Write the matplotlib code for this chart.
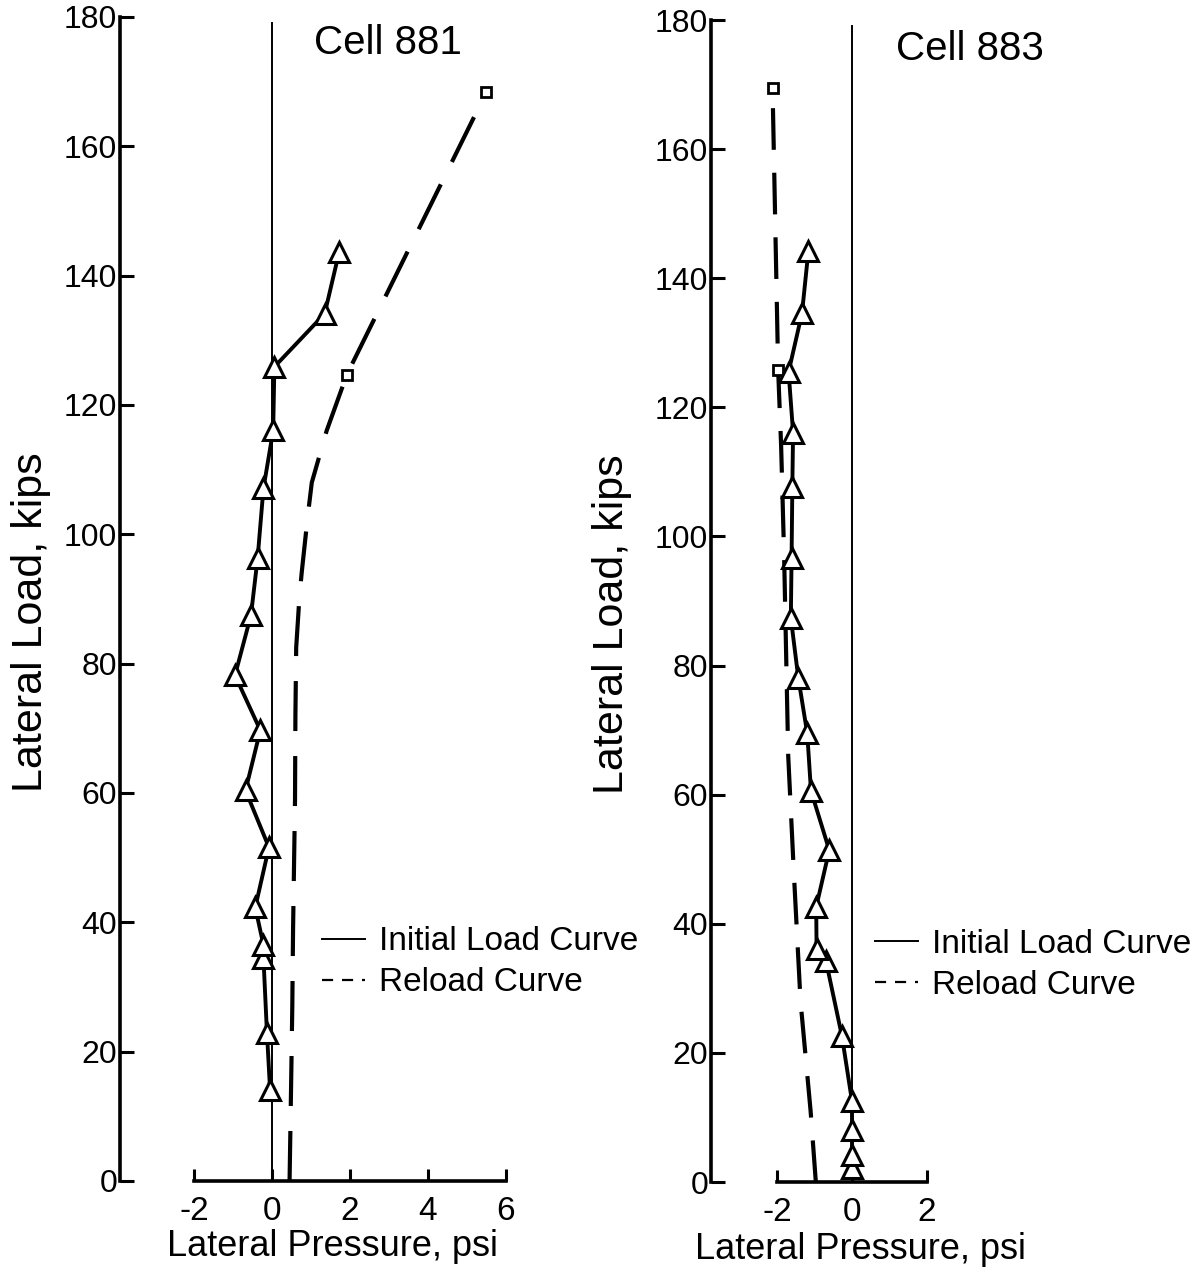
import matplotlib.pyplot as plt
from matplotlib.lines import Line2D

plt.rcParams['font.family'] = ['Liberation Sans', 'DejaVu Sans']
plt.rcParams['axes.unicode_minus'] = False

# Cell 881 (left panel)
c881_init_load = [14.1, 22.9, 34.5, 36.5, 42.3, 51.6, 60.4, 69.7, 78.2, 87.5,
                  96.3, 107.1, 116.1, 125.9, 134.1, 143.6]
c881_init_p = [-0.05, -0.13, -0.22, -0.22, -0.43, -0.08, -0.68, -0.30, -0.95,
               -0.54, -0.37, -0.22, 0.03, 0.06, 1.35, 1.72]
c881_reload_load = [0, 15, 27, 39, 51, 59, 72, 82.5, 90, 94, 103, 108, 116,
                    124.7, 168.4]
c881_reload_p = [0.45, 0.49, 0.52, 0.54, 0.57, 0.59, 0.60, 0.62, 0.70, 0.76,
                 0.92, 1.02, 1.40, 1.92, 5.50]

# Cell 883 (right panel)
c883_init_load = [2.1, 4.2, 8.1, 12.5, 22.6, 34.3, 36.1, 42.6, 51.4, 60.6,
                  69.5, 78.1, 87.4, 96.7, 107.6, 116.1, 125.5, 134.6, 144.2]
c883_init_p = [0.0, 0.0, 0.0, 0.0, -0.27, -0.70, -0.95, -0.96, -0.61, -1.10,
               -1.20, -1.44, -1.64, -1.62, -1.60, -1.58, -1.70, -1.34, -1.17]
c883_reload_load = [0, 11, 28, 48, 66, 97, 114, 125.8, 169.5]
c883_reload_p = [-0.97, -1.11, -1.38, -1.56, -1.71, -1.82, -1.90, -1.98, -2.13]

W, H = 1201, 1271
fig = plt.figure(figsize=(W / 100, H / 100), dpi=100)


def px_axes(x0, x1, ytop, ybot):
    return fig.add_axes([x0 / W, 1 - ybot / H, (x1 - x0) / W, (ybot - ytop) / H])


def style(ax, xlim, xb, xticks):
    ax.set_xlim(*xlim)
    ax.set_ylim(0, 180)
    for s in ['top', 'right']:
        ax.spines[s].set_visible(False)
    ax.spines['left'].set_linewidth(2.6)
    ax.spines['bottom'].set_linewidth(2.6)
    ax.spines['bottom'].set_bounds(*xb)
    ax.set_xticks(xticks)
    ax.set_xticklabels([str(t) for t in xticks])
    ax.set_yticks(range(0, 181, 20))
    ax.tick_params(axis='y', direction='in', length=10, width=2.2, pad=2,
                   labelsize=23)
    ax.tick_params(axis='x', direction='in', length=9, width=2.2, pad=11,
                   labelsize=24)
    ax.axvline(0, ymin=0, ymax=179 / 180, color='k', lw=1.4)


def draw(ax, il, ip, rl, rp, dashes):
    ax.plot(rp, rl, color='k', lw=3, dashes=dashes, marker='s', ms=7,
            mfc='white', mec='k', mew=2, markevery=[len(rl) - 2, len(rl) - 1],
            clip_on=False, zorder=3)
    ax.plot(ip, il, color='k', lw=2.8, marker='^', ms=14, mfc='white',
            mec='k', mew=2.2, clip_on=False, zorder=4)


handles = [Line2D([], [], color='k', lw=1.4),
           Line2D([], [], color='k', lw=1.6, dashes=(5, 4))]
labels = ['Initial Load Curve', 'Reload Curve']

# left panel
ax1 = px_axes(120, 640, 17, 1181)
style(ax1, (-3.9, 9.44), (-2, 6), [-2, 0, 2, 4, 6])
draw(ax1, c881_init_load, c881_init_p, c881_reload_load, c881_reload_p, (12, 6))
ax1.text(2.97, 176, 'Cell 881', fontsize=29, ha='center', va='center')
ax1.set_ylabel('Lateral Load, kips', fontsize=31, va='center')
ax1.yaxis.set_label_coords(-0.172, 0.48)
ax1.set_xlabel('Lateral Pressure, psi', fontsize=26, va='center')
ax1.xaxis.set_label_coords(0.408, -0.0567)
ax1.legend(handles, labels, loc='center left', bbox_to_anchor=(1.28, 33.8),
           bbox_transform=ax1.transData, frameon=False, fontsize=24,
           handlelength=1.3, handletextpad=0.4, labelspacing=0.3,
           borderpad=0, borderaxespad=0)

# right panel
ax2 = px_axes(711, 1190, 20, 1182)
style(ax2, (-3.78, 9.06), (-2, 2), [-2, 0, 2])
draw(ax2, c883_init_load, c883_init_p, c883_reload_load, c883_reload_p, (10, 5.5))
ax2.text(3.16, 175.5, 'Cell 883', fontsize=29, ha='center', va='center')
ax2.set_ylabel('Lateral Load, kips', fontsize=31, va='center')
ax2.yaxis.set_label_coords(-0.207, 0.48)
ax2.set_xlabel('Lateral Pressure, psi', fontsize=26, va='center')
ax2.xaxis.set_label_coords(0.313, -0.0585)
ax2.legend(handles, labels, loc='center left', bbox_to_anchor=(0.62, 33.6),
           bbox_transform=ax2.transData, frameon=False, fontsize=24,
           handlelength=1.3, handletextpad=0.4, labelspacing=0.3,
           borderpad=0, borderaxespad=0)

fig.savefig('out.png', dpi=100, facecolor='white')
